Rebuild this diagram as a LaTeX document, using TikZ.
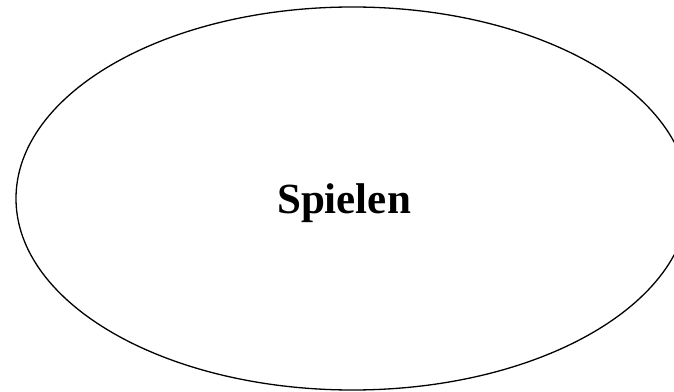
\documentclass[tikz,border=0pt]{standalone}
\usepackage{fontspec}
\setmainfont{Liberation Serif}
\usetikzlibrary{shapes.geometric}
\begin{document}
\begin{tikzpicture}[x=1pt,y=1pt]
\useasboundingbox (0,0) rectangle (674,391);
\clip (0,0) rectangle (674,391);
\node[draw, ellipse, line width=1.3pt, minimum width=673pt, minimum height=383pt, inner sep=0pt] (e) at (352.5,192.5) {};
\node[anchor=base, font=\bfseries\fontsize{43}{50}\selectfont, inner sep=0pt] (t) at (344,177) {Spielen};
\end{tikzpicture}
\end{document}
